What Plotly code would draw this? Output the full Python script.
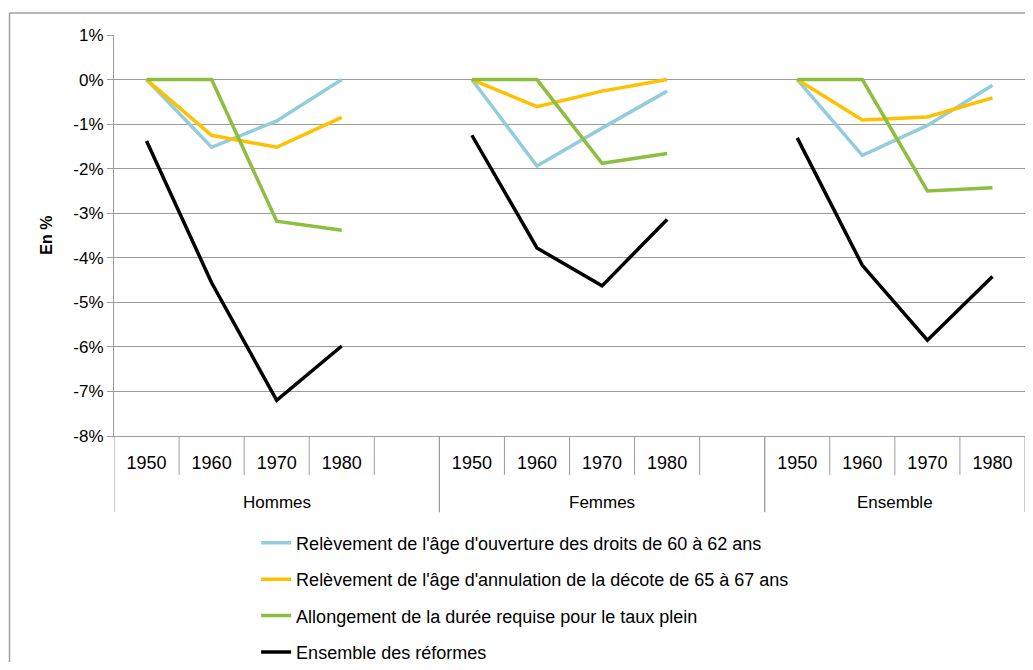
import plotly.graph_objects as go

# ---- data ----
groups = ["Hommes", "Femmes", "Ensemble"]
years = ["1950", "1960", "1970", "1980"]
series_names = [
    "Relèvement de l'âge d'ouverture des droits de 60 à 62 ans",
    "Relèvement de l'âge d'annulation de la décote de 65 à 67 ans",
    "Allongement de la durée requise pour le taux plein",
    "Ensemble des réformes",
]
age_ouverture = {
    "Hommes": [0.0, -1.52, -0.93, 0.0],
    "Femmes": [0.0, -1.94, -1.09, -0.26],
    "Ensemble": [0.0, -1.70, -1.03, -0.13],
}
age_decote = {
    "Hommes": [0.0, -1.25, -1.52, -0.85],
    "Femmes": [0.0, -0.61, -0.26, 0.0],
    "Ensemble": [0.0, -0.91, -0.84, -0.41],
}
duree = {
    "Hommes": [0.0, 0.0, -3.18, -3.38],
    "Femmes": [0.0, 0.0, -1.88, -1.66],
    "Ensemble": [0.0, 0.0, -2.50, -2.43],
}
ensemble_reformes = {
    "Hommes": [-1.38, -4.56, -7.20, -5.98],
    "Femmes": [-1.25, -3.78, -4.63, -3.14],
    "Ensemble": [-1.31, -4.17, -5.85, -4.42],
}
y_ticks = [1, 0, -1, -2, -3, -4, -5, -6, -7, -8]

colors = ["#93CDDD", "#FFC000", "#8CBF3F", "#000000"]
all_series = [age_ouverture, age_decote, duree, ensemble_reformes]

# category layout: each group has its years plus one empty slot (except last)
slots_per_group = len(years) + 1
n_slots = slots_per_group * len(groups) - 1


def pos(g, k):
    return g * slots_per_group + k


fig = go.Figure()
for name, data, col in zip(series_names, all_series, colors):
    xs, ys = [], []
    for g, grp in enumerate(groups):
        for k, v in enumerate(data[grp]):
            xs.append(pos(g, k))
            ys.append(v)
        xs.append(None)
        ys.append(None)
    fig.add_trace(go.Scatter(
        x=xs, y=ys, mode="lines", name=name, legendgroup=name,
        line=dict(color=col, width=3.5), connectgaps=False,
    ))

tickvals = [pos(g, k) for g in range(len(groups)) for k in range(len(years))]
ticktext = [y for _ in groups for y in years]

grid = "#9C9C9C"
font_family = "Liberation Sans, Arial, sans-serif"
shapes = []
annotations = []
# category separators
for g in range(len(groups)):
    nk = len(years) + (1 if g < len(groups) - 1 else 0)
    for k in range(nk + 1):
        xb = pos(g, k) - 0.5
        long = (k == 0) or (k == nk)
        shapes.append(dict(type="line", xref="x", yref="paper",
                           x0=xb, x1=xb, y0=0, y1=-0.19 if long else -0.097,
                           line=dict(color=grid, width=1)))
    annotations.append(dict(text=groups[g], xref="x", yref="paper",
                            x=pos(g, 0) - 0.5 + nk / 2,
                            y=-0.165, showarrow=False, yanchor="middle",
                            font=dict(size=17, color="#000")))

# y axis title
annotations.append(dict(text="<b>En %</b>", xref="paper", yref="paper",
                        x=-0.0745, y=0.5, textangle=-90, showarrow=False,
                        xanchor="center", yanchor="middle",
                        font=dict(size=16, color="#000")))

# chart area border (left and top)
shapes.append(dict(type="line", xref="paper", yref="paper", x0=-0.1147, x1=-0.1147,
                   y0=1.0549, y1=-0.6, line=dict(color="#A0A0A0", width=1.5)))
shapes.append(dict(type="line", xref="paper", yref="paper", x0=-0.1147, x1=1.02,
                   y0=1.0549, y1=1.0549, line=dict(color="#A0A0A0", width=1.5)))

fig.update_layout(
    width=1017, height=654,
    margin=dict(l=106, r=0, t=27, b=226, autoexpand=False),
    paper_bgcolor="white", plot_bgcolor="white",
    font=dict(family=font_family, size=16, color="#000"),
    shapes=shapes, annotations=annotations,
    legend=dict(x=0.156, y=-0.221, xanchor="left", yanchor="top",
                orientation="v", tracegroupgap=10,
                font=dict(size=18), bgcolor="rgba(0,0,0,0)"),
    showlegend=True,
)
fig.update_xaxes(
    range=[-0.5, n_slots - 0.5], tickvals=tickvals, ticktext=ticktext,
    showgrid=False, zeroline=False, showline=True, linecolor=grid, linewidth=1,
    ticks="outside", ticklen=10, tickcolor="rgba(0,0,0,0)",
    tickfont=dict(size=18),
)
fig.update_yaxes(
    range=[-8, 1], tickvals=y_ticks, ticktext=[f"{v}%" for v in y_ticks],
    showgrid=True, gridcolor=grid, gridwidth=1,
    zeroline=False, showline=True, linecolor=grid, linewidth=1,
    ticks="outside", ticklen=6, tickcolor=grid,
    tickfont=dict(size=17),
)

fig.write_html("out.html")
